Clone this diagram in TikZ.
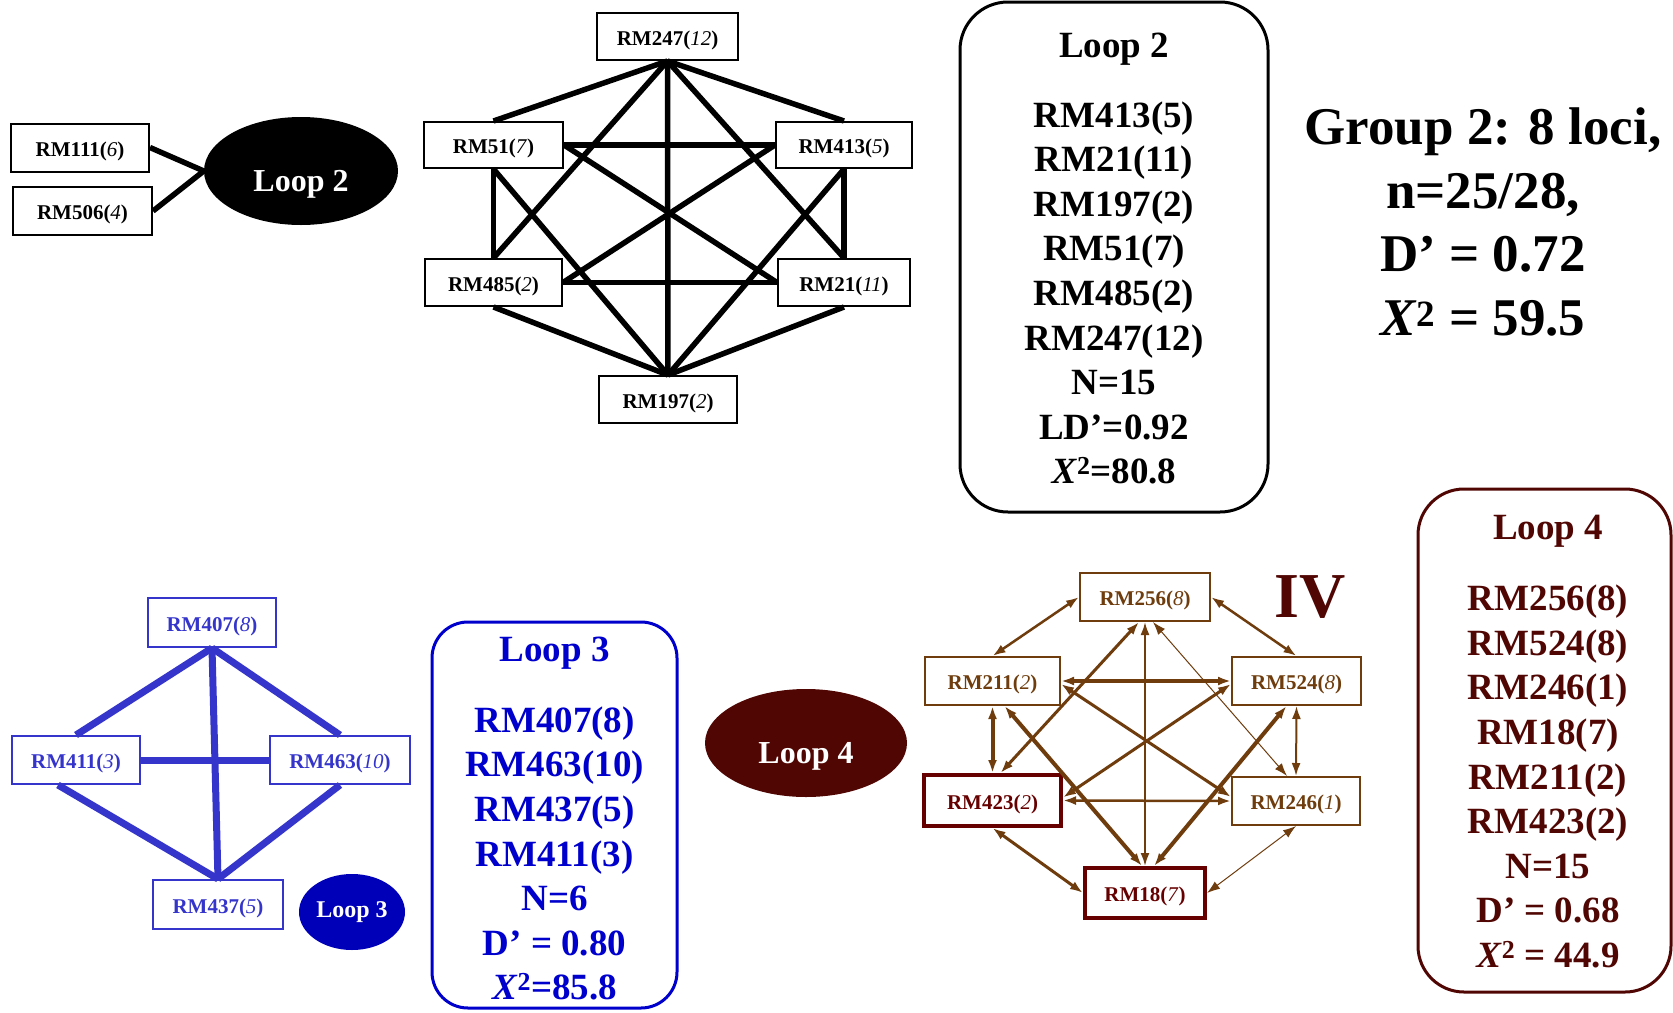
\documentclass[tikz,border=0pt]{standalone}
\usepackage{fontspec}
\setmainfont{Liberation Serif}
\usetikzlibrary{arrows.meta,calc,shapes.geometric}
\definecolor{gblue}{RGB}{53,53,204}
\definecolor{tblue}{RGB}{0,0,204}
\definecolor{eblue}{RGB}{0,0,185}
\definecolor{lfdark}{RGB}{80,6,3}
\definecolor{brn}{RGB}{110,60,13}
\definecolor{dred}{RGB}{102,0,0}
\newcommand{\mylbl}[2]{#1(\textmd{\textit{#2}})}
\begin{document}
\begin{tikzpicture}[x=1pt,y=-1pt,
  lbox/.style={draw, line width=2pt, inner sep=0pt, fill=white, minimum height=48pt,
    text height=17pt, text depth=0pt, font=\fontsize{21}{25}\selectfont\bfseries},
  k6/.style={line width=5.5pt, black},
  bl/.style={line width=7pt, gblue},
  ar/.style={brn, {Latex[length=13pt,width=9pt]}-{Latex[length=13pt,width=9pt]}},
  infobox/.style={draw, line width=3pt, inner sep=0pt},
  bigtxt/.style={align=center, inner sep=0pt, font=\fontsize{37}{44.6}\selectfont\bfseries},
  ttl/.style={anchor=base, inner sep=0pt, font=\fontsize{37}{44.6}\selectfont\bfseries},
  oval/.style={ellipse, inner sep=0pt, text height=40pt, text depth=0pt,
    font=\fontsize{32}{36}\selectfont\bfseries, text=white}
]
\useasboundingbox (0,0) rectangle (1673,1012);

% ---------- Loop 2 (left) ----------
\node[lbox, minimum width=138pt] (n111) at (80,147.5) {\mylbl{RM111}{6}};
\node[lbox, minimum width=139pt] (n506) at (82.5,211) {\mylbl{RM506}{4}};
\node[oval, fill=black, minimum width=194pt, minimum height=108pt] (loop2e) at (301,171) {Loop 2};
\draw[k6] (n111.east) -- (loop2e.west);
\draw[k6] (n506.east) -- (loop2e.west);

% ---------- Loop 2 graph ----------
\node[lbox, minimum width=141pt, minimum height=47pt] (n247) at (667.5,36.5) {\mylbl{RM247}{12}};
\node[lbox, minimum width=139pt, minimum height=46pt] (n51) at (493.5,145) {\mylbl{RM51}{7}};
\node[lbox, minimum width=136pt, minimum height=46pt] (n413) at (844,145) {\mylbl{RM413}{5}};
\node[lbox, minimum width=137pt, minimum height=47pt] (n485) at (493.5,282.5) {\mylbl{RM485}{2}};
\node[lbox, minimum width=132pt, minimum height=47pt] (n21) at (844,282.5) {\mylbl{RM21}{11}};
\node[lbox, minimum width=138pt, minimum height=47pt] (n197) at (668,399.5) {\mylbl{RM197}{2}};
\draw[k6] (n247.south) -- (n51.north);
\draw[k6] (n247.south) -- (n413.north);
\draw[k6] (n247.south) -- (n485.north);
\draw[k6] (n247.south) -- (n21.north);
\draw[k6] (n247.south) -- (n197.north);
\draw[k6] (n51.east) -- (n413.west);
\draw[k6] (n51.east) -- (n21.west);
\draw[k6] (n51.south) -- (n485.north);
\draw[k6] (n51.south) -- (n197.north);
\draw[k6] (n413.west) -- (n485.east);
\draw[k6] (n413.south) -- (n21.north);
\draw[k6] (n413.south) -- (n197.north);
\draw[k6] (n485.east) -- (n21.west);
\draw[k6] (n485.south) -- (n197.north);
\draw[k6] (n21.south) -- (n197.north);

% ---------- Loop 2 info box ----------
\node[infobox, rounded corners=48pt, minimum width=308pt, minimum height=510pt] (box2) at (1114,257) {};
\node[ttl] (box2t) at (1114,57) {Loop 2};
\node[bigtxt] (box2l) at (1114,293) {RM413(5)\\RM21(11)\\RM197(2)\\RM51(7)\\RM485(2)\\RM247(12)\\N=15\\LD’=0.92\\\textit{X}\textsuperscript{2}=80.8};

% ---------- Group 2 text ----------
\node[align=center, inner sep=0pt, font=\fontsize{53}{63.7}\selectfont\bfseries] (grp) at (1483,222)
  {Group 2: 8 loci,\\n=25/28,\\D’ = 0.72\\\textit{X}\textsuperscript{2} = 59.5};

% ---------- Loop 3 graph ----------
\node[lbox, draw=gblue, text=gblue, minimum width=128pt, minimum height=49pt] (n407) at (212,622.5) {\mylbl{RM407}{8}};
\node[lbox, draw=gblue, text=gblue, minimum width=128pt] (n411) at (76,760) {\mylbl{RM411}{3}};
\node[lbox, draw=gblue, text=gblue, minimum width=140pt] (n463) at (340,760) {\mylbl{RM463}{10}};
\node[lbox, draw=gblue, text=gblue, minimum width=130pt, minimum height=49pt] (n437) at (218,904.5) {\mylbl{RM437}{5}};
\node[ellipse, inner sep=0pt, fill=eblue, text=white, font=\fontsize{24}{28}\selectfont\bfseries,
  minimum width=106pt, minimum height=76pt] (loop3e) at (352,912) {Loop 3};
\draw[bl] (n407.south) -- (n411.north);
\draw[bl] (n407.south) -- (n463.north);
\draw[bl] (n407.south) -- (n437.north);
\draw[bl] (n411.east) -- (n463.west);
\draw[bl] ($(n411.south)+(-18,0)$) -- (n437.north);
\draw[bl] (n463.south) -- (n437.north);

% ---------- Loop 3 info box ----------
\node[infobox, draw=tblue, rounded corners=36pt, minimum width=245pt, minimum height=386pt] (box3) at (554.5,815) {};
\node[ttl, text=tblue] (box3t) at (554.5,661) {Loop 3};
\node[bigtxt, text=tblue] (box3l) at (554.5,853.5) {RM407(8)\\RM463(10)\\RM437(5)\\RM411(3)\\N=6\\D’ = 0.80\\\textit{X}\textsuperscript{2}=85.8};

% ---------- Loop 4 ----------
\node[oval, fill=lfdark, minimum width=202pt, minimum height=108pt] (loop4e) at (806,743) {Loop 4};
\node[lbox, draw=brn, text=brn, minimum width=130pt] (n256) at (1145,597) {\mylbl{RM256}{8}};
\node[lbox, draw=brn, text=brn, minimum width=135pt] (n211) at (992.5,681) {\mylbl{RM211}{2}};
\node[lbox, draw=brn, text=brn, minimum width=129pt] (n524) at (1296.5,681) {\mylbl{RM524}{8}};
\node[lbox, draw=dred, text=dred, line width=4pt, minimum width=137pt, minimum height=51pt] (n423) at (992.5,800.5) {\mylbl{RM423}{2}};
\node[lbox, draw=brn, text=brn, minimum width=128pt] (n246) at (1296,801) {\mylbl{RM246}{1}};
\node[lbox, draw=dred, text=dred, line width=4pt, minimum width=120pt, minimum height=50pt] (n18) at (1145,893) {\mylbl{RM18}{7}};
\node[inner sep=0pt, text=lfdark, font=\fontsize{64}{70}\selectfont\bfseries] (iv) at (1310,597.5) {IV};

\draw[ar, line width=2.5pt] (n256.west) -- (n211.north);
\draw[ar, line width=2.5pt] (n256.east) -- (n524.north);
\draw[ar, line width=4pt] (n211.south) -- (n423.north);
\draw[ar, line width=2pt] (n524.south) -- (n246.north);
\draw[ar, line width=3pt] (n423.south) -- (n18.west);
\draw[ar, line width=1pt] (n246.south) -- (n18.east);
\draw[ar, line width=3.5pt] (n211.east) -- (n524.west);
\draw[ar, line width=2.5pt] (n423.east) -- (n246.west);
\draw[ar, line width=2pt] (n256.south) -- (n18.north);
\draw[ar, line width=3pt] ($(n256.south)+(-6,0)$) -- ($(n423.north)+(8,0)$);
\draw[ar, line width=1pt] ($(n256.south)+(8,0)$) -- ($(n246.north)+(-9,0)$);
\draw[ar, line width=4pt] ($(n211.south)+(12,0)$) -- ($(n18.north)+(-3,0)$);
\draw[ar, line width=4pt] ($(n524.south)+(-10,0)$) -- ($(n18.north)+(9,0)$);
\draw[ar, line width=3pt] ($(n211.east)+(0,3)$) -- ($(n246.west)+(0,-4)$);
\draw[ar, line width=3pt] ($(n524.west)+(0,3)$) -- ($(n423.east)+(0,-3)$);

% ---------- Loop 4 info box ----------
\node[infobox, draw=lfdark, rounded corners=46pt, minimum width=253pt, minimum height=503pt] (box4) at (1544.5,740.5) {};
\node[ttl, text=lfdark] (box4t) at (1548,539) {Loop 4};
\node[bigtxt, text=lfdark] (box4l) at (1548,776.5) {RM256(8)\\RM524(8)\\RM246(1)\\RM18(7)\\RM211(2)\\RM423(2)\\N=15\\D’ = 0.68\\\textit{X}\textsuperscript{2} = 44.9};
\end{tikzpicture}
\end{document}
